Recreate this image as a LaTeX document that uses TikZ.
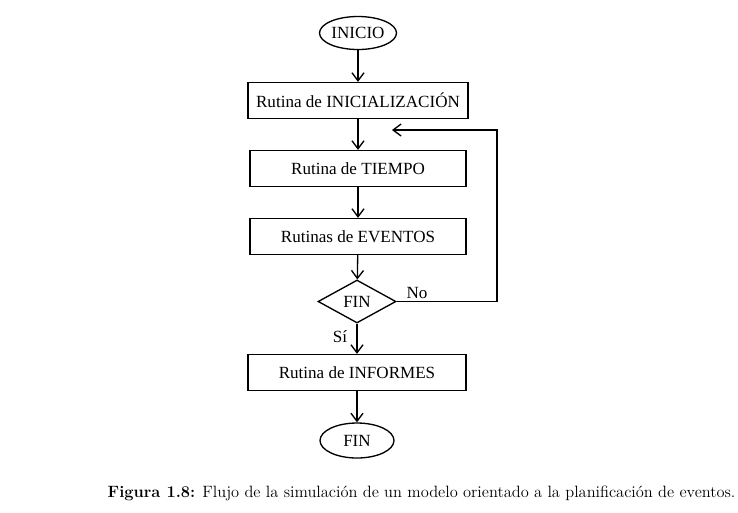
\documentclass[tikz,border=0pt]{standalone}
\usepackage{fontspec}
\newfontfamily\timesf{Liberation Serif}
\usetikzlibrary{shapes.geometric,arrows.meta}
\begin{document}
\begin{tikzpicture}[x=0.75pt,y=-0.75pt,
  line width=1pt,
  txt/.style={font=\timesf\fontsize{12.8}{15}\selectfont},
  proc/.style={draw,rectangle,minimum width=216*0.75pt,minimum height=36*0.75pt,inner sep=0pt,txt},
  term/.style={draw,ellipse,minimum width=77*0.75pt,minimum height=33*0.75pt,inner sep=0pt,txt},
  deci/.style={draw,diamond,aspect=1.8,minimum width=78*0.75pt,minimum height=43*0.75pt,inner sep=0pt,txt},
  lab/.style={txt,inner sep=0pt},
  arr/.style={-{Straight Barb[length=6pt,width=9pt]}}]
\useasboundingbox (0,0) rectangle (738,512);
\node[term] (ini) at (358,33) {INICIO};
\node[proc,minimum width=220*0.75pt] (init) at (358,100.5) {Rutina de INICIALIZACIÓN};
\node[proc] (tiem) at (358,168.5) {Rutina de TIEMPO};
\node[proc] (even) at (358,236.5) {Rutinas de EVENTOS};
\node[deci] (fin) at (357,301.5) {FIN};
\node[proc,minimum width=218*0.75pt] (info) at (357,372.5) {Rutina de INFORMES};
\node[term,minimum width=74*0.75pt,minimum height=35*0.75pt] (end) at (357,440.5) {FIN};
\coordinate (c1) at (497,301.5);
\coordinate (c2) at (497,130);
\coordinate (c3) at (392,130);
\draw[arr] (ini) -- (init);
\draw[arr] (init) -- (tiem);
\draw[arr] (tiem) -- (even);
\draw[arr] (even) -- (fin);
\draw[arr] (fin) -- (info);
\draw[arr] (info) -- (end);
\draw[arr] (fin.east) -- (c1) -- (c2) -- (c3);
\node[lab] (no) at (417,293) {No};
\node[lab] (si) at (340,337) {Sí};
\node[inner sep=0pt,anchor=west,font=\fontsize{12.3}{14}\selectfont] (cap) at (107,493) {\textbf{Figura 1.8:} Flujo de la simulación de un modelo orientado a la planificación de eventos.};
\end{tikzpicture}
\end{document}
